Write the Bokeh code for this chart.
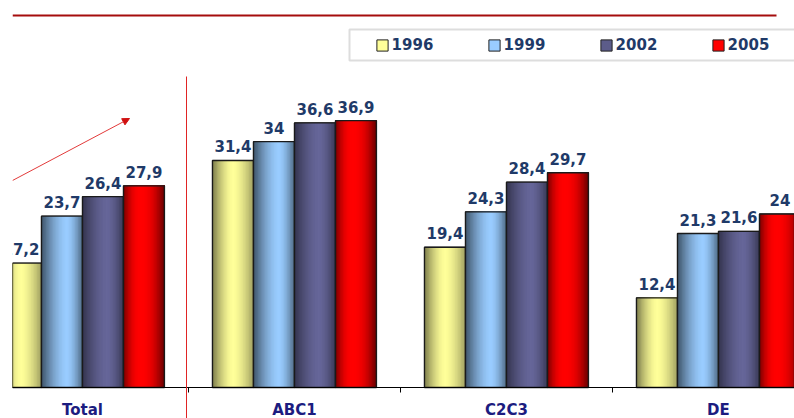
from bokeh.plotting import figure
from bokeh.models import (ColumnDataSource, Range1d, LinearAxis, FixedTicker, Legend,
                          LegendItem, BoxAnnotation, Arrow, NormalHead)
from bokeh.core.properties import value
from bokeh.embed import file_html
from bokeh.resources import INLINE

# --- data -------------------------------------------------------------------
categories = ["Total", "ABC1", "C2C3", "DE"]
years = ["1996", "1999", "2002", "2005"]
v1996 = [17.2, 31.4, 19.4, 12.4]
v1999 = [23.7, 34.0, 24.3, 21.3]
v2002 = [26.4, 36.6, 28.4, 21.6]
v2005 = [27.9, 36.9, 29.7, 24.0]
series = [v1996, v1999, v2002, v2005]

# --- styling ----------------------------------------------------------------
FONT = "DejaVu Sans"
LABEL_COLOR = "#1f3a68"
CAT_COLOR = "#1c1c80"
# base colour, highlight position, left edge / right edge brightness, falloff
shades = [
    ((255, 255, 153), 0.50, 0.48, 0.62, 1.6),
    ((153, 204, 255), 0.62, 0.40, 0.50, 1.6),
    ((102, 102, 153), 0.60, 0.50, 0.55, 1.6),
    ((255, 0, 0), 0.42, 0.45, 0.38, 2.2),
]
legend_colors = ["#ffff99", "#99ccff", "#5c5c8a", "#ff0000"]

BAR_W = 0.1934          # width of one bar in category units
N_STRIPS = 28           # vertical strips used for the cylinder shading
offsets = [(i - 1.5) * BAR_W for i in range(4)]


def shade(base, peak, left, right, power, t):
    if t < peak:
        s = (peak - t) / peak
        lo = left
    else:
        s = (t - peak) / (1 - peak)
        lo = right
    f = 1 - (1 - lo) * s ** power
    r, g, b = (int(round(c * f)) for c in base)
    return "#%02x%02x%02x" % (r, g, b)


def fmt(v):
    return ("%g" % v).replace(".", ",")


p = figure(width=794, height=418, output_backend="svg", toolbar_location=None,
           x_range=Range1d(0.17, 0.17 + 782 / 212), y_range=Range1d(-31 / 7.23, 387 / 7.23),
           min_border_left=12, min_border_right=0, min_border_top=0, min_border_bottom=0,
           x_axis_type=None, y_axis_type=None)
p.outline_line_color = None
p.xgrid.visible = False
p.ygrid.visible = False
p.background_fill_color = "white"
p.border_fill_color = "white"

# legend frame behind the legend entries
p.add_layout(BoxAnnotation(left=337, right=800, top=389, bottom=358,
                           left_units="screen", right_units="screen",
                           top_units="screen", bottom_units="screen",
                           fill_color="white", fill_alpha=1.0,
                           line_color="#8f8f8f", line_width=2, level="underlay"))

legend_items = []
for si, (vals, sh) in enumerate(zip(series, shades)):
    centers = [ci + 0.5 + offsets[si] for ci in range(len(vals))]
    src = ColumnDataSource(dict(x=centers, top=vals, label=[fmt(v) for v in vals]))

    # flat base fill of each bar (also used as the legend swatch)
    base = p.vbar(x="x", top="top", bottom=0, width=BAR_W, fill_color=legend_colors[si],
                  line_color="#222222", line_width=1, source=src)
    legend_items.append(LegendItem(label=years[si], renderers=[base]))

    # cylinder shading: each strip runs from its own left edge to the bar's right
    # edge, so later strips overlap the earlier ones without seams
    xs, ws, tops, cols = [], [], [], []
    for ci, v in enumerate(vals):
        x0 = centers[ci] - BAR_W / 2
        x1 = centers[ci] + BAR_W / 2
        for k in range(N_STRIPS):
            left = x0 + k * BAR_W / N_STRIPS
            xs.append((left + x1) / 2)
            ws.append(x1 - left)
            tops.append(v)
            cols.append(shade(*sh, (k + 0.5) / N_STRIPS))
    p.vbar(x="x", top="top", bottom=0, width="w", fill_color="color", line_color=None,
           source=ColumnDataSource(dict(x=xs, w=ws, top=tops, color=cols)))

    p.vbar(x="x", top="top", bottom=0, width=BAR_W, fill_color=None,
           line_color="#1a1a1a", line_width=1.3, source=src)
    p.text(x="x", y="top", text="label", source=src, text_align="center",
           text_baseline="alphabetic", y_offset=-14, text_font=value(FONT),
           text_font_style="bold", text_font_size="15px", text_color=LABEL_COLOR)

legend = Legend(items=legend_items, orientation="horizontal", location=(362.6, 364.5),
                padding=5, spacing=53, glyph_width=14, glyph_height=14,
                label_standoff=3, label_width=42, label_height=14,
                label_text_font=FONT, label_text_font_style="bold",
                label_text_font_size="15px", label_text_color=LABEL_COLOR,
                background_fill_alpha=0, border_line_color=None)
p.add_layout(legend, "center")

# category axis along the baseline
xaxis = LinearAxis(fixed_location=0,
                   ticker=FixedTicker(ticks=[i + 0.5 for i in range(len(categories))],
                                      minor_ticks=list(range(1, len(categories)))),
                   major_label_overrides={i + 0.5: c for i, c in enumerate(categories)})
xaxis.axis_line_color = "black"
xaxis.axis_line_width = 1
xaxis.major_tick_out = 0
xaxis.major_tick_in = 0
xaxis.minor_tick_out = 5
xaxis.minor_tick_in = 0
xaxis.minor_tick_line_color = "black"
xaxis.major_label_standoff = 8
xaxis.major_label_text_font = FONT
xaxis.major_label_text_font_style = "bold"
xaxis.major_label_text_font_size = "15px"
xaxis.major_label_text_color = CAT_COLOR
p.add_layout(xaxis, "below")

# header rule, divider and trend arrow
p.add_layout(Arrow(x_start=0, y_start=403, x_end=764, y_end=403, end=None,
                   start_units="screen", end_units="screen",
                   line_color="#a50d0d", line_width=2))
p.add_layout(Arrow(x_start=174, y_start=342, x_end=174, y_end=-10, end=None,
                   start_units="screen", end_units="screen",
                   line_color="#e02424", line_width=1))
p.add_layout(Arrow(x_start=0, y_start=238, x_end=117, y_end=300,
                   start_units="screen", end_units="screen",
                   line_color="#e23a3a", line_width=1,
                   end=NormalHead(size=7, fill_color="#d01010", line_color="#d01010")))

open("out.html", "w").write(file_html(p, INLINE))
